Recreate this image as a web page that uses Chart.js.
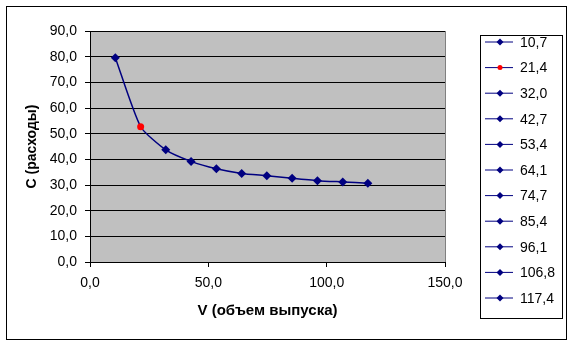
<!DOCTYPE html>
<html>
<head>
<meta charset="utf-8">
<script src="https://cdn.jsdelivr.net/npm/chart.js@4"></script>
<style>
    html, body { margin: 0; padding: 0; background: #fff; }
</style>
</head>
<body>
<canvas id="costChart" width="574" height="345"></canvas>
<script>
// V (объем выпуска) and C (расходы)
const volumes = [10.7, 21.4, 32.0, 42.7, 53.4, 64.1, 74.7, 85.4, 96.1, 106.8, 117.4];
const costs = [79.6, 52.7, 43.7, 39.2, 36.3, 34.5, 33.6, 32.6, 31.7, 31.2, 30.7];
const highlightIndex = 1;

const navy = "#000080";
const fontName = "'Liberation Sans', Arial, sans-serif";

function fmt(v) {
    return Number(v).toFixed(1).replace('.', ',');
}

const pointColors = volumes.map((v, i) => i === highlightIndex ? "#ff0000" : navy);
const pointStyles = volumes.map((v, i) => i === highlightIndex ? "circle" : "rectRot");
const pointRadii = volumes.map((v, i) => i === highlightIndex ? 3.5 : 4.5);

// gray plot area + outer frame
const frame = {
    id: 'frame',
    beforeDraw(chart) {
        const ctx = chart.ctx;
        const a = chart.chartArea;
        ctx.save();
        ctx.fillStyle = "#c0c0c0";
        ctx.fillRect(a.left, a.top, a.right - a.left, a.bottom - a.top);
        ctx.strokeStyle = "#808080";
        ctx.lineWidth = 1;
        ctx.strokeRect(a.left + 0.5, a.top + 0.5, a.right - a.left, a.bottom - a.top);
        ctx.strokeStyle = "#000";
        ctx.strokeRect(6.5, 6.5, 560, 333);
        ctx.restore();
    }
};

// Excel-like legend: one entry per point
const sideLegend = {
    id: 'sideLegend',
    afterDraw(chart) {
        const ctx = chart.ctx;
        ctx.save();
        ctx.strokeStyle = "#000";
        ctx.lineWidth = 1;
        ctx.strokeRect(480.5, 35.5, 82, 283);
        ctx.font = "14px " + fontName;
        ctx.textBaseline = "middle";
        ctx.fillStyle = "#000";
        volumes.forEach((v, i) => {
            const y = 42 + i * 25.6;
            ctx.strokeStyle = navy;
            ctx.lineWidth = 1;
            ctx.beginPath();
            ctx.moveTo(485, y);
            ctx.lineTo(513, y);
            ctx.stroke();
            ctx.fillStyle = pointColors[i];
            Chart.helpers.drawPoint(ctx, {pointStyle: pointStyles[i], radius: pointRadii[i] - 1, borderWidth: 0}, 500, y);
            ctx.fillStyle = "#000";
            ctx.fillText(fmt(v), 520, y + 1);
        });
        ctx.restore();
    }
};

new Chart(document.getElementById("costChart"), {
    type: "scatter",
    data: {
        datasets: [
            {
                label: "C",
                data: volumes.map((v, i) => ({x: v, y: costs[i]})),
                showLine: true,
                tension: 0.2,
                borderColor: navy,
                borderWidth: 1.5,
                pointStyle: pointStyles,
                pointRadius: pointRadii,
                pointBackgroundColor: pointColors,
                pointBorderColor: pointColors,
                pointBorderWidth: 0
            }
        ]
    },
    options: {
        responsive: false,
        animation: false,
        layout: {
            padding: {left: 0, top: 31, right: 129, bottom: 0}
        },
        scales: {
            x: {
                type: "linear",
                min: 0,
                max: 150,
                afterFit: function (scale) { scale.height = 83; },
                ticks: {
                    stepSize: 50,
                    color: "#000",
                    padding: 8,
                    font: {family: fontName, size: 14},
                    callback: function (value) { return fmt(value); }
                },
                grid: {
                    drawOnChartArea: false,
                    color: "#000",
                    tickLength: 5
                },
                border: {color: "#000"},
                title: {
                    display: true,
                    text: "V (объем выпуска)",
                    color: "#000",
                    padding: {top: 0, bottom: 25},
                    font: {family: fontName, size: 15, weight: "bold"}
                }
            },
            y: {
                min: 0,
                max: 90,
                afterFit: function (scale) { scale.width = 90; },
                ticks: {
                    stepSize: 10,
                    color: "#000",
                    padding: 8,
                    font: {family: fontName, size: 14},
                    callback: function (value) { return fmt(value); }
                },
                grid: {
                    color: "#000",
                    tickLength: 5
                },
                border: {color: "#000"},
                title: {
                    display: true,
                    text: "C (расходы)",
                    color: "#000",
                    padding: {top: 24, bottom: 0},
                    font: {family: fontName, size: 14, weight: "bold"}
                }
            }
        },
        plugins: {
            legend: {display: false},
            tooltip: {enabled: false}
        }
    },
    plugins: [frame, sideLegend]
});
</script>
</body>
</html>
